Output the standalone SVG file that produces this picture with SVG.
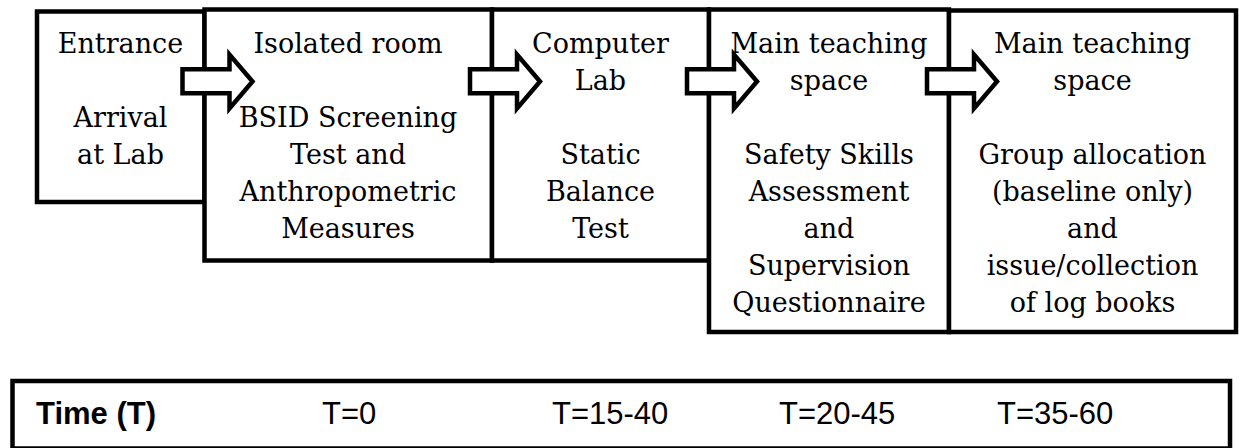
<svg xmlns="http://www.w3.org/2000/svg" xmlns:xlink="http://www.w3.org/1999/xlink" width="1239" height="448" viewBox="0 0 1239 448">
<style>
.box{fill:#fff;stroke:#000;stroke-width:4.5}
.t{font-family:"DejaVu Serif","Liberation Serif",serif;font-size:27px;fill:#000;text-anchor:middle}
.s{font-family:"Liberation Sans",Arial,sans-serif;font-size:31px;fill:#000}
.b{font-weight:bold}
.arr{fill:#fff;stroke:#000;stroke-width:4.5;stroke-linejoin:miter;stroke-miterlimit:10}
</style>
<defs>
<path id="blockArrow" class="arr" d="M-22,69.3 L25,69.3 L25,54.5 L48,81.5 L25,108.5 L25,93.2 L-22,93.2 Z"/>
</defs>
<rect width="1239" height="448" fill="#fff"/>
<g id="n1">
<rect class="box" x="37" y="11.5" width="167.5" height="190.5"/>
<text class="t" x="120.5" y="53">Entrance</text>
<text class="t" x="120.5" y="127">Arrival</text>
<text class="t" x="120.5" y="164">at Lab</text>
</g>
<g id="n2">
<rect class="box" x="204.5" y="9.5" width="287.5" height="251"/>
<text class="t" x="348" y="53">Isolated room</text>
<text class="t" x="348" y="127">BSID Screening</text>
<text class="t" x="348" y="164">Test and</text>
<text class="t" x="348" y="201">Anthropometric</text>
<text class="t" x="348" y="238">Measures</text>
</g>
<g id="n3">
<rect class="box" x="492" y="9.5" width="217" height="251"/>
<text class="t" x="600.5" y="53">Computer</text>
<text class="t" x="600.5" y="90">Lab</text>
<text class="t" x="600.5" y="164">Static</text>
<text class="t" x="600.5" y="201">Balance</text>
<text class="t" x="600.5" y="238">Test</text>
</g>
<g id="n4">
<rect class="box" x="709" y="9.5" width="240" height="322.5"/>
<text class="t" x="829" y="53">Main teaching</text>
<text class="t" x="829" y="90">space</text>
<text class="t" x="829" y="164">Safety Skills</text>
<text class="t" x="829" y="201">Assessment</text>
<text class="t" x="829" y="238">and</text>
<text class="t" x="829" y="275">Supervision</text>
<text class="t" x="829" y="312">Questionnaire</text>
</g>
<g id="n5">
<rect class="box" x="949" y="10.5" width="287" height="321.5"/>
<text class="t" x="1092.5" y="53">Main teaching</text>
<text class="t" x="1092.5" y="90">space</text>
<text class="t" x="1092.5" y="164">Group allocation</text>
<text class="t" x="1092.5" y="201">(baseline only)</text>
<text class="t" x="1092.5" y="238">and</text>
<text class="t" x="1092.5" y="275">issue/collection</text>
<text class="t" x="1092.5" y="312">of log books</text>
</g>
<g id="connectors">
<use xlink:href="#blockArrow" href="#blockArrow" transform="translate(204.5,0)"/>
<use xlink:href="#blockArrow" href="#blockArrow" transform="translate(492,0)"/>
<use xlink:href="#blockArrow" href="#blockArrow" transform="translate(709,0)"/>
<use xlink:href="#blockArrow" href="#blockArrow" transform="translate(949,0)"/>
</g>
<g id="timeline">
<rect class="box" x="12.5" y="381" width="1217.5" height="67.5"/>
<text class="s b" x="36" y="424">Time (T)</text>
<text class="s" x="322" y="424">T=0</text>
<text class="s" x="552" y="424">T=15-40</text>
<text class="s" x="779" y="424">T=20-45</text>
<text class="s" x="997" y="424">T=35-60</text>
</g>
</svg>
